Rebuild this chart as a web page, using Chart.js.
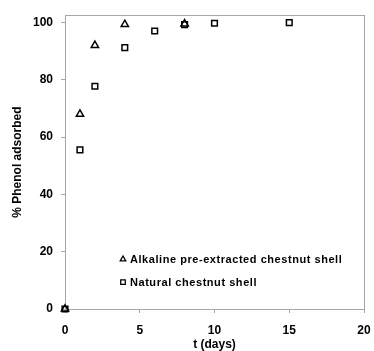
<!DOCTYPE html>
<html>
<head>
<meta charset="utf-8">
<script src="https://cdn.jsdelivr.net/npm/chart.js@4.4.1/dist/chart.umd.min.js"></script>
<style>
  html, body { margin: 0; padding: 0; background: #fff; }
  #wrap { width: 374px; height: 351px; }
</style>
</head>
<body>
<div id="wrap"><canvas id="chart" width="374" height="351"></canvas></div>
<script>
  // time (days) and % phenol adsorbed
  const alkDays = [0, 1, 2, 4, 8];
  const alkPct = [0, 68, 92, 99.3, 99.5];
  const natDays = [0, 1, 2, 4, 6, 8, 10, 15];
  const natPct = [0, 55.5, 77.7, 91.2, 97, 99.2, 99.7, 99.9];
  const xTicks = [0, 5, 10, 15, 20];
  const yTicks = [0, 20, 40, 60, 80, 100];

  const FRAME = '#a6a6a6';
  const FONT = '"Liberation Sans", Arial, sans-serif';

  const pts = (xs, ys) => xs.map((x, i) => ({ x: x, y: ys[i] }));

  // box round the plot area + legend drawn inside it
  const framePlugin = {
    id: 'frame',
    beforeDatasetsDraw(chart) {
      const a = chart.chartArea;
      const ctx = chart.ctx;
      ctx.save();
      ctx.strokeStyle = FRAME;
      ctx.lineWidth = 1;
      ctx.strokeRect(Math.round(a.left) + 0.5, Math.round(a.top) + 0.5,
        Math.round(a.right - a.left), Math.round(a.bottom - a.top));
      ctx.restore();
    },
    afterDraw(chart) {
      const ctx = chart.ctx;
      const a = chart.chartArea;
      ctx.save();
      ctx.font = 'bold 11px ' + FONT;
      ctx.letterSpacing = '0.55px';
      ctx.textBaseline = 'middle';
      chart.data.datasets.forEach((ds, i) => {
        const x = a.left + 58;
        const y = a.top + 244 + i * 23;
        ctx.fillStyle = 'rgba(0,0,0,0)';
        ctx.strokeStyle = '#000';
        ctx.lineWidth = 1.3;
        Chart.helpers.drawPoint(ctx, {
          pointStyle: ds.pointStyle, radius: 3.2, borderWidth: 1.3
        }, x, y);
        ctx.fillStyle = '#000';
        ctx.fillText(ds.label, x + 7, y + 1);
      });
      ctx.restore();
    }
  };

  new Chart(document.getElementById('chart'), {
    type: 'scatter',
    data: {
      datasets: [{
        label: 'Alkaline pre-extracted chestnut shell',
        data: pts(alkDays, alkPct),
        pointStyle: 'triangle',
        pointRadius: 4.2,
        pointHoverRadius: 4.2,
        borderColor: '#000',
        backgroundColor: 'rgba(0,0,0,0)',
        borderWidth: 1.5,
        clip: false
      }, {
        label: 'Natural chestnut shell',
        data: pts(natDays, natPct),
        pointStyle: 'rect',
        pointRadius: 4,
        pointHoverRadius: 4,
        borderColor: '#000',
        backgroundColor: 'rgba(0,0,0,0)',
        borderWidth: 1.5,
        clip: false
      }]
    },
    options: {
      responsive: false,
      animation: false,
      events: [],
      layout: { padding: { top: 15, right: 10, left: 0, bottom: 0 } },
      plugins: { legend: { display: false }, tooltip: { enabled: false } },
      scales: {
        x: {
          type: 'linear',
          min: 0, max: 20,
          afterFit: (s) => { s.height = 42; s.paddingRight = 0; s.paddingLeft = 0; },
          afterBuildTicks: (s) => { s.ticks = xTicks.map(v => ({ value: v })); },
          border: { display: true, color: FRAME },
          grid: { drawOnChartArea: false, drawTicks: true, tickLength: 4, color: FRAME },
          ticks: { color: '#000', font: { family: FONT, size: 12, weight: 'bold' }, padding: 10, maxRotation: 0 },
          title: { display: true, text: 't (days)', color: '#000', font: { family: FONT, size: 12, weight: 'bold' }, padding: { top: 0, bottom: -1 } }
        },
        y: {
          type: 'linear',
          min: 0, max: 102.5,
          afterFit: (s) => { s.width = 65; },
          afterBuildTicks: (s) => { s.ticks = yTicks.map(v => ({ value: v })); },
          border: { display: true, color: FRAME },
          grid: { drawOnChartArea: false, drawTicks: true, tickLength: 4, color: FRAME },
          ticks: { color: '#000', font: { family: FONT, size: 12, weight: 'bold' }, padding: 8 },
          title: { display: true, text: '% Phenol adsorbed', color: '#000', font: { family: FONT, size: 12, weight: 'bold' }, padding: { top: 10, bottom: 0 } }
        }
      }
    },
    plugins: [framePlugin]
  });
</script>
</body>
</html>
